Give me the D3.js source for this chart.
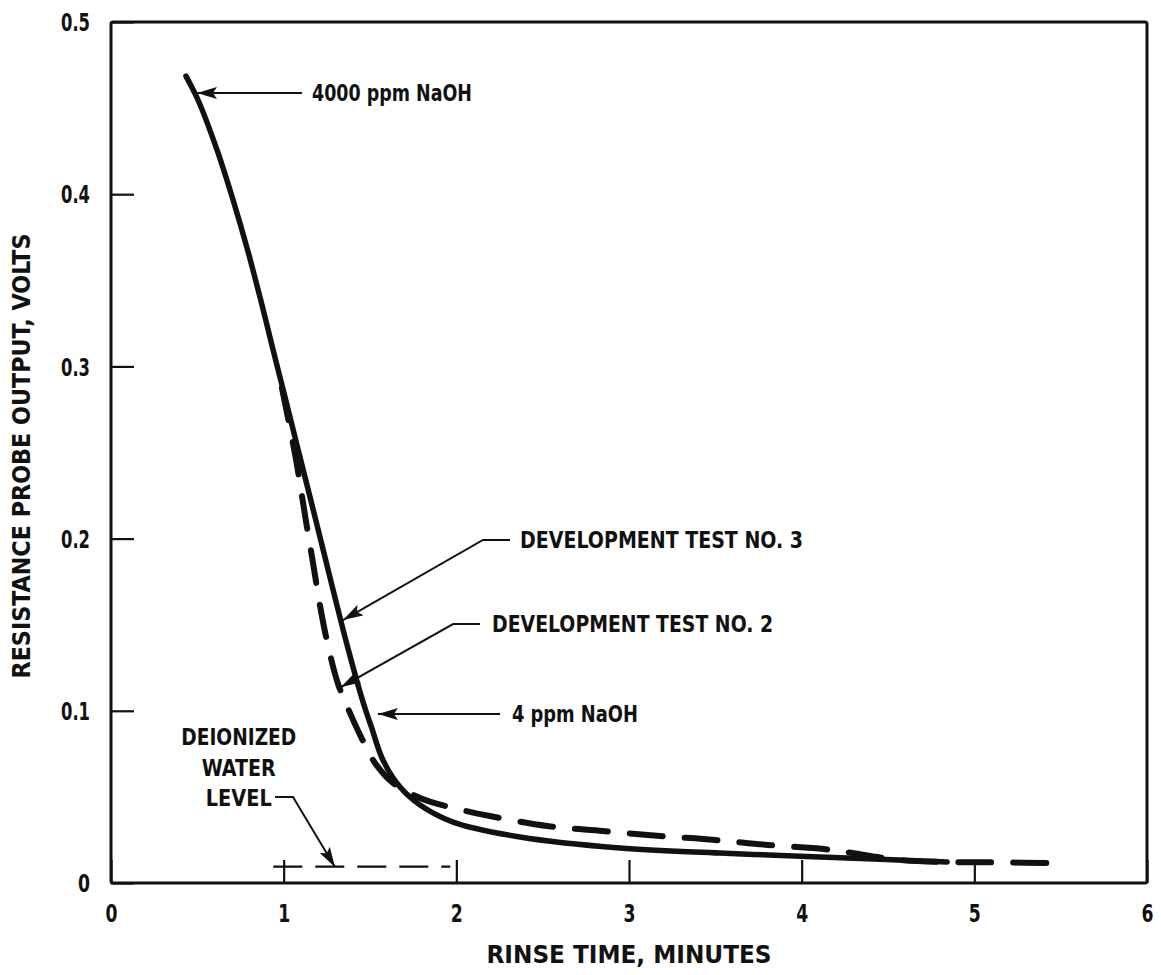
<!DOCTYPE html>
<html lang="en-US">
  <head>
    <meta charset="utf-8" />
    <title>Rinse time vs resistance probe output</title>
    <script src="https://cdn.jsdelivr.net/npm/d3@7"></script>
    <style>
      body { margin: 0; background: #fff; }
      svg text {
        font-family: "Liberation Sans Narrow", "DejaVu Sans Condensed", "Roboto Condensed", sans-serif;
        font-weight: bold;
        fill: #111;
      }
    </style>
  </head>
  <body>
    <div id="chart"></div>
    <script>
      // values (minutes, volts)
      var xTicks = [0, 1, 2, 3, 4, 5, 6];
      var yTicks = [0, 0.1, 0.2, 0.3, 0.4, 0.5];
      var yTickLabels = ["0", "0.1", "0.2", "0.3", "0.4", "0.5"];

      // development test no. 3 (solid)
      var test3X = [0.434, 0.504, 0.614, 0.707, 0.791, 0.867, 0.939, 1.012, 1.084, 1.157, 1.229, 1.301, 1.375, 1.456, 1.508, 1.575, 1.674, 1.79, 1.981, 2.369, 2.948, 3.527, 4.106, 4.842];
      var test3Y = [0.4686, 0.4547, 0.4257, 0.3966, 0.3676, 0.3386, 0.3095, 0.2805, 0.2515, 0.2224, 0.1934, 0.1643, 0.1353, 0.1063, 0.0906, 0.0714, 0.0557, 0.0453, 0.0354, 0.0267, 0.0203, 0.0174, 0.0151, 0.0122];

      // development test no. 2 (dashed)
      var test2X = [0.99, 1.071, 1.129, 1.17, 1.211, 1.251, 1.315, 1.384, 1.454, 1.529, 1.633, 1.79, 1.981, 2.195, 2.525, 2.849, 3.18, 3.498, 3.805, 4.129, 4.251, 4.57, 4.84, 5.09, 5.53];
      var test2Y = [0.2875, 0.2462, 0.2102, 0.1858, 0.1608, 0.1405, 0.1156, 0.0988, 0.0836, 0.0697, 0.0581, 0.0494, 0.0436, 0.0389, 0.0331, 0.0302, 0.0273, 0.025, 0.0221, 0.0197, 0.018, 0.0133, 0.0122, 0.012, 0.0115];

      // deionized water level
      var waterLevel = 0.0095;
      var waterRange = [0.94, 1.965];

      var width = 1161;
      var height = 975;
      var margin = { top: 22, right: 14, bottom: 92, left: 111 };

      var x = d3.scaleLinear().domain([0, 6]).range([margin.left, width - margin.right]);
      var y = d3.scaleLinear().domain([0, 0.5]).range([height - margin.bottom, margin.top]);

      var svg = d3
        .select("#chart")
        .append("svg")
        .attr("width", width)
        .attr("height", height);

      // axes: ticks point into the plot
      var xAxis = svg
        .append("g")
        .attr("transform", "translate(0," + y(0) + ")")
        .call(d3.axisBottom(x).tickValues(xTicks).tickFormat(d3.format("d")).tickSizeInner(-23).tickSizeOuter(0).tickPadding(22));

      var yAxis = svg
        .append("g")
        .attr("transform", "translate(" + x(0) + ",0)")
        .call(
          d3.axisLeft(y).tickValues(yTicks)
            .tickFormat(function (d, i) { return yTickLabels[i]; })
            .tickSizeInner(-23).tickSizeOuter(0).tickPadding(21)
        );

      // narrow, tall digits like the original lettering
      [xAxis, yAxis].forEach(function (a) {
        a.select(".domain").remove();
        a.selectAll(".tick line").attr("stroke", "#111").attr("stroke-width", 2.2);
        a.selectAll(".tick text")
          .style("font-size", "24px")
          .attr("fill", "#111")
          .attr("lengthAdjust", "spacingAndGlyphs")
          .attr("textLength", function () { return this.textContent.length > 1 ? 29 : 12; });
      });
      yAxis.selectAll(".tick text").attr("dy", "0.36em");

      // plot frame
      svg
        .append("rect")
        .attr("x", x(0))
        .attr("y", y(0.5))
        .attr("width", x(6) - x(0))
        .attr("height", y(0) - y(0.5))
        .attr("rx", 2)
        .attr("fill", "none")
        .attr("stroke", "#111")
        .attr("stroke-width", 3);

      // axis titles
      svg
        .append("text")
        .attr("x", x(3))
        .attr("y", 963)
        .attr("text-anchor", "middle")
        .attr("textLength", 285)
        .attr("lengthAdjust", "spacingAndGlyphs")
        .style("font-size", "24px")
        .text("RINSE TIME, MINUTES");

      svg
        .append("text")
        .attr("transform", "translate(30," + 456 + ") rotate(-90)")
        .attr("text-anchor", "middle")
        .attr("textLength", 445)
        .attr("lengthAdjust", "spacingAndGlyphs")
        .style("font-size", "24px")
        .text("RESISTANCE PROBE OUTPUT, VOLTS");

      var line = d3
        .line()
        .x(function (d) { return x(d[0]); })
        .y(function (d) { return y(d[1]); })
        .curve(d3.curveCatmullRom.alpha(0.5));

      // deionized water level (thin dashes)
      svg
        .append("line")
        .attr("x1", x(waterRange[0]))
        .attr("x2", x(waterRange[1]))
        .attr("y1", y(waterLevel))
        .attr("y2", y(waterLevel))
        .attr("stroke", "#111")
        .attr("stroke-width", 2.2)
        .attr("stroke-dasharray", "29,13");

      svg
        .append("path")
        .datum(d3.zip(test2X, test2Y))
        .attr("d", line)
        .attr("fill", "none")
        .attr("stroke", "#111")
        .attr("stroke-width", 6)
        .attr("stroke-linecap", "round")
        .attr("stroke-dasharray", "33,22");

      svg
        .append("path")
        .datum(d3.zip(test3X, test3Y))
        .attr("d", line)
        .attr("fill", "none")
        .attr("stroke", "#111")
        .attr("stroke-width", 5.5)
        .attr("stroke-linecap", "round");

      // arrows and labels, in data units
      svg
        .append("defs")
        .append("marker")
        .attr("id", "head")
        .attr("viewBox", "0 0 20 12")
        .attr("refX", 20)
        .attr("refY", 6)
        .attr("markerWidth", 20)
        .attr("markerHeight", 12)
        .attr("markerUnits", "userSpaceOnUse")
        .attr("orient", "auto")
        .append("path")
        .attr("d", "M0,0L20,6L0,12L4,6Z")
        .attr("fill", "#111");

      var notes = [
        { text: "4000 ppm NaOH", pts: [[1.106, 0.4588], [0.498, 0.4588]], tx: 1.164, ty: 0.4588, len: 160 },
        { text: "DEVELOPMENT TEST NO. 3", pts: [[2.311, 0.1992], [2.154, 0.1992], [1.344, 0.1527]], tx: 2.369, ty: 0.1992, len: 283 },
        { text: "DEVELOPMENT TEST NO. 2", pts: [[2.137, 0.1504], [1.981, 0.1504], [1.332, 0.1138]], tx: 2.207, ty: 0.1504, len: 281 },
        { text: "4 ppm NaOH", pts: [[2.253, 0.0981], [1.546, 0.0981]], tx: 2.322, ty: 0.0981, len: 126 },
        { text: null, pts: [[0.95, 0.0499], [1.054, 0.0499], [1.297, 0.0093]] }
      ];

      var straight = d3
        .line()
        .x(function (d) { return x(d[0]); })
        .y(function (d) { return y(d[1]); });

      notes.forEach(function (n) {
        svg
          .append("path")
          .attr("d", straight(n.pts))
          .attr("fill", "none")
          .attr("stroke", "#111")
          .attr("stroke-width", 2)
          .attr("marker-end", "url(#head)");
        if (n.text) {
          svg
            .append("text")
            .attr("x", x(n.tx))
            .attr("y", y(n.ty))
            .attr("dy", "0.36em")
            .attr("textLength", n.len)
            .attr("lengthAdjust", "spacingAndGlyphs")
            .style("font-size", "23px")
            .text(n.text);
        }
      });

      var waterLines = [
        { text: "DEIONIZED", ty: 0.0848, len: 115 },
        { text: "WATER", ty: 0.0668, len: 74 },
        { text: "LEVEL", ty: 0.0494, len: 66 }
      ];
      svg
        .selectAll(".water")
        .data(waterLines)
        .enter()
        .append("text")
        .attr("class", "water")
        .attr("x", x(0.74))
        .attr("y", function (d) { return y(d.ty); })
        .attr("dy", "0.36em")
        .attr("text-anchor", "middle")
        .attr("textLength", function (d) { return d.len; })
        .attr("lengthAdjust", "spacingAndGlyphs")
        .style("font-size", "23px")
        .text(function (d) { return d.text; });
    </script>
  </body>
</html>
